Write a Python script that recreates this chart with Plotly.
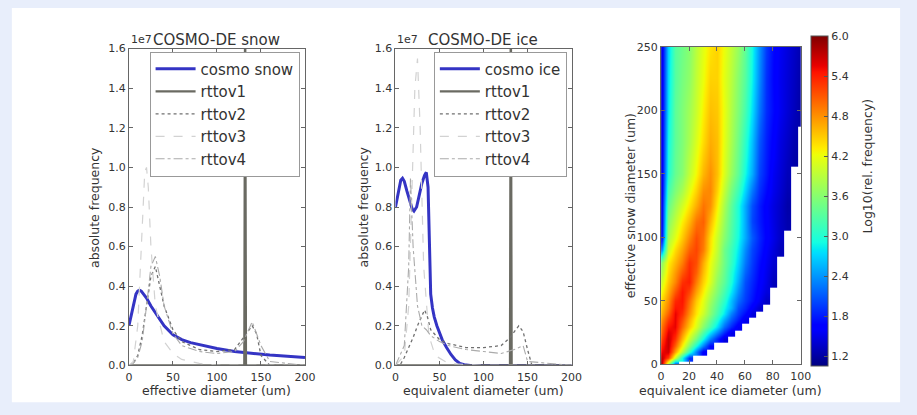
import plotly.graph_objects as go

# ---------------- Panel 1: COSMO-DE snow (units of 1e7) ----------------
snow_cosmo_x = [0, 2, 4, 6, 8, 10, 12, 14, 16, 20, 25, 30, 35, 40, 50, 60, 70, 80, 90, 100, 120, 140, 160, 180, 200]
snow_cosmo_y = [0.20, 0.24, 0.29, 0.33, 0.36, 0.375, 0.38, 0.375, 0.365, 0.34, 0.30, 0.265, 0.23, 0.20, 0.155,
                0.13, 0.115, 0.105, 0.095, 0.085, 0.07, 0.06, 0.052, 0.046, 0.04]
snow_r1_x = [0, 131, 132, 133, 200]
snow_r1_y = [0, 0, 2.0, 0, 0]
snow_r2_x = [0, 5, 10, 15, 20, 25, 30, 35, 40, 50, 60, 80, 100, 120, 130, 140, 145, 150, 160, 200]
snow_r2_y = [0, 0.01, 0.05, 0.15, 0.3, 0.45, 0.5, 0.4, 0.3, 0.18, 0.12, 0.08, 0.07, 0.08, 0.14, 0.2, 0.16, 0.05, 0, 0]
snow_r3_x = [0, 5, 10, 15, 18, 20, 22, 25, 30, 40, 50, 60, 80, 100, 150, 200]
snow_r3_y = [0, 0.02, 0.2, 0.7, 0.98, 1.0, 0.9, 0.6, 0.3, 0.12, 0.06, 0.03, 0.01, 0, 0, 0]
snow_r4_x = [0, 5, 10, 15, 20, 25, 30, 35, 40, 50, 60, 80, 100, 120, 130, 140, 150, 160, 200]
snow_r4_y = [0, 0.01, 0.04, 0.12, 0.3, 0.5, 0.55, 0.45, 0.3, 0.16, 0.1, 0.07, 0.06, 0.07, 0.12, 0.22, 0.1, 0.02, 0]

# ---------------- Panel 2: COSMO-DE ice (units of 1e7) ----------------
ice_cosmo_x = [0, 2, 4, 6, 8, 10, 13, 16, 19, 21, 24, 27, 30, 33, 35, 37, 38, 39, 40, 42, 44, 47, 50, 53,
               58, 63, 68, 73, 78, 85, 100, 150, 200]
ice_cosmo_y = [0.80, 0.85, 0.90, 0.935, 0.945, 0.93, 0.88, 0.83, 0.79, 0.78, 0.80, 0.86, 0.92, 0.96, 0.975,
               0.90, 0.70, 0.45, 0.36, 0.29, 0.245, 0.20, 0.16, 0.13, 0.09, 0.055, 0.028, 0.01, 0.003, 0, 0, 0, 0]
ice_r1_x = [0, 130, 131, 132, 200]
ice_r1_y = [0, 0, 2.0, 0, 0]
ice_r2_x = [0, 5, 10, 15, 20, 25, 30, 33, 36, 40, 50, 60, 80, 100, 120, 130, 140, 145, 150, 155, 200]
ice_r2_y = [0, 0, 0.04, 0.09, 0.14, 0.2, 0.25, 0.28, 0.25, 0.18, 0.13, 0.11, 0.09, 0.09, 0.1, 0.14, 0.2, 0.17, 0.08, 0, 0]
ice_r3_x = [0, 10, 15, 18, 22, 25, 28, 32, 38, 45, 60, 100, 200]
ice_r3_y = [0, 0.05, 0.3, 0.8, 1.4, 1.55, 1.2, 0.5, 0.15, 0.05, 0.01, 0, 0]
ice_r4_x = [0, 10, 15, 17, 20, 25, 30, 35, 40, 50, 60, 80, 100, 120, 135, 145, 150, 200]
ice_r4_y = [0, 0.1, 0.5, 0.95, 0.6, 0.3, 0.2, 0.18, 0.15, 0.12, 0.1, 0.08, 0.07, 0.06, 0.08, 0.1, 0.02, 0]

# ---------------- Panel 3: log10(rel. frequency) ----------------
N = None
hm_x = [0, 5, 10, 15, 20, 25, 30, 35, 40, 45, 50, 55, 60, 65, 70, 75, 80, 85, 90, 95, 100]
hm_y = [0, 5, 10, 15, 20, 25, 30, 35, 40, 45, 50, 57, 65, 72, 80, 90, 100, 112, 125, 137, 150, 162, 175, 200, 225, 250]
hm_z = [
    [6.0, 3.6, 1.8] + [N] * 18,
    [5.75, 5.25, 4.0, 2.9, 1.9] + [N] * 16,
    [5.5, 5.65, 4.7, 3.9, 3.1, 2.3, 1.6] + [N] * 14,
    [5.35, 5.7, 5.05, 4.3, 3.6, 2.95, 2.3, 1.7] + [N] * 13,
    [5.15, 5.7, 5.3, 4.6, 4.0, 3.5, 2.9, 2.3, 1.85, 1.45] + [N] * 11,
    [5.0, 5.6, 5.45, 4.8, 4.25, 3.8, 3.25, 2.75, 2.3, 1.85, 1.5] + [N] * 10,
    [4.9, 5.45, 5.55, 5.0, 4.5, 4.1, 3.6, 3.2, 2.75, 2.2, 1.85, 1.55] + [N] * 9,
    [4.75, 5.25, 5.55, 5.15, 4.65, 4.2, 3.8, 3.4, 3.0, 2.5, 2.1, 1.8, 1.5] + [N] * 8,
    [4.6, 5.05, 5.55, 5.3, 4.8, 4.35, 4.0, 3.6, 3.2, 2.8, 2.3, 1.95, 1.7, 1.45] + [N] * 7,
    [4.5, 4.9, 5.45, 5.4, 4.9, 4.4, 4.1, 3.65, 3.3, 2.9, 2.55, 2.05, 1.85, 1.6, 1.4] + [N] * 6,
    [4.4, 4.8, 5.35, 5.45, 5.0, 4.5, 4.15, 3.75, 3.4, 3.05, 2.6, 2.2, 1.95, 1.75, 1.55, 1.35] + [N] * 5,
    [4.2, 4.65, 5.1, 5.45, 5.2, 4.7, 4.3, 3.9, 3.55, 3.2, 2.8, 2.35, 2.0, 1.8, 1.6, 1.45] + [N] * 5,
    [4.0, 4.5, 4.85, 5.3, 5.4, 4.9, 4.45, 4.1, 3.65, 3.35, 2.95, 2.5, 2.05, 1.85, 1.65, 1.5, 1.3] + [N] * 4,
    [3.8, 4.4, 4.75, 5.1, 5.35, 5.05, 4.55, 4.15, 3.75, 3.4, 3.0, 2.6, 2.15, 1.9, 1.68, 1.52, 1.35] + [N] * 4,
    [3.6, 4.3, 4.6, 4.9, 5.3, 5.15, 4.65, 4.2, 3.85, 3.45, 3.1, 2.7, 2.25, 1.95, 1.72, 1.55, 1.4] + [N] * 4,
    [2.2, 4.0, 4.4, 4.7, 5.05, 5.2, 4.9, 4.35, 3.95, 3.45, 3.15, 2.8, 2.35, 2.0, 1.8, 1.6, 1.45, 1.3] + [N] * 3,
    [1.5, 3.8, 4.15, 4.5, 4.85, 5.15, 4.95, 4.4, 4.0, 3.6, 3.25, 2.9, 2.5, 2.1, 1.85, 1.65, 1.5, 1.35] + [N] * 3,
    [1.45, 3.6, 3.95, 4.3, 4.6, 4.95, 5.05, 4.6, 4.15, 3.7, 3.3, 2.95, 2.5, 2.0, 1.8, 1.63, 1.48, 1.35, 1.25, N, N],
    [1.45, 3.4, 3.75, 4.05, 4.35, 4.65, 4.95, 4.8, 4.3, 3.8, 3.35, 2.95, 2.5, 2.05, 1.8, 1.61, 1.47, 1.36, 1.23, N, N],
    [1.4, 3.2, 3.55, 3.8, 4.15, 4.45, 4.8, 4.85, 4.45, 3.95, 3.5, 3.15, 2.7, 2.25, 1.9, 1.7, 1.52, 1.4, 1.27, N, N],
    [1.4, 3.0, 3.4, 3.6, 3.95, 4.25, 4.6, 4.8, 4.55, 4.1, 3.7, 3.35, 2.9, 2.5, 2.0, 1.78, 1.55, 1.43, 1.3, N, N],
    [1.4, 2.95, 3.38, 3.58, 3.88, 4.18, 4.5, 4.72, 4.55, 4.12, 3.75, 3.4, 2.98, 2.55, 2.05, 1.8, 1.6, 1.45, 1.33, 1.22, N],
    [1.4, 2.9, 3.35, 3.55, 3.8, 4.1, 4.4, 4.65, 4.55, 4.15, 3.8, 3.45, 3.05, 2.6, 2.1, 1.82, 1.63, 1.47, 1.36, 1.25, N],
    [1.4, 2.8, 3.35, 3.55, 3.75, 4.0, 4.3, 4.55, 4.5, 4.18, 3.85, 3.55, 3.2, 2.75, 2.25, 1.88, 1.7, 1.54, 1.42, 1.31, 1.2],
    [1.4, 2.75, 3.3, 3.5, 3.65, 3.95, 4.2, 4.45, 4.45, 4.15, 3.9, 3.6, 3.3, 2.85, 2.35, 1.9, 1.68, 1.53, 1.43, 1.33, 1.22],
    [1.4, 2.7, 3.3, 3.45, 3.6, 3.9, 4.15, 4.35, 4.45, 4.2, 3.95, 3.7, 3.35, 2.9, 2.4, 1.95, 1.7, 1.55, 1.45, 1.35, 1.25],
]
cbar_ticks = [1.2, 1.8, 2.4, 3.0, 3.6, 4.2, 4.8, 5.4, 6.0]
freq_ticks = [0.0, 0.2, 0.4, 0.6, 0.8, 1.0, 1.2, 1.4, 1.6]

jet = [[0.0, 'rgb(0,0,128)'], [0.11, 'rgb(0,0,255)'], [0.125, 'rgb(0,0,255)'], [0.34, 'rgb(0,219,255)'],
       [0.35, 'rgb(0,230,247)'], [0.375, 'rgb(20,255,226)'], [0.64, 'rgb(238,255,8)'], [0.66, 'rgb(255,236,0)'],
       [0.89, 'rgb(255,19,0)'], [0.91, 'rgb(232,0,0)'], [1.0, 'rgb(128,0,0)']]

W, H = 917, 415
FONT = 'DejaVu Sans'
TXT = '#333333'
BLUE = '#3434c4'

def px(x):
    return x / W

def py(y):
    return 1 - y / H

fig = go.Figure()

def add_lines(xa, ya, leg, series):
    for i, (name, x, y, color, width, dash) in enumerate(series):
        fig.add_trace(go.Scatter(x=x, y=y, mode='lines', name=name, xaxis=xa, yaxis=ya,
                                 line=dict(color=color, width=width, dash=dash),
                                 legend=leg, legendgroup=leg + str(i)))

add_lines('x', 'y', 'legend', [
    ('cosmo snow', snow_cosmo_x, snow_cosmo_y, BLUE, 3, 'solid'),
    ('rttov1', snow_r1_x, snow_r1_y, '#6a6a62', 2.2, 'solid'),
    ('rttov2', snow_r2_x, snow_r2_y, '#707070', 1.3, 'dot'),
    ('rttov3', snow_r3_x, snow_r3_y, '#d2d2d2', 1.2, 'dash'),
    ('rttov4', snow_r4_x, snow_r4_y, '#ababab', 1.1, 'dashdot'),
])
add_lines('x2', 'y2', 'legend2', [
    ('cosmo ice', ice_cosmo_x, ice_cosmo_y, BLUE, 3, 'solid'),
    ('rttov1', ice_r1_x, ice_r1_y, '#6a6a62', 2.2, 'solid'),
    ('rttov2', ice_r2_x, ice_r2_y, '#707070', 1.3, 'dot'),
    ('rttov3', ice_r3_x, ice_r3_y, '#d2d2d2', 1.2, 'dash'),
    ('rttov4', ice_r4_x, ice_r4_y, '#ababab', 1.1, 'dashdot'),
])

fig.add_trace(go.Heatmap(x=hm_x, y=hm_y, z=hm_z, xaxis='x3', yaxis='y3', zsmooth='best',
                         colorscale=jet, zmin=1.05, zmax=6.0, showlegend=False,
                         colorbar=dict(x=px(820), xanchor='left', xpad=0, y=py(372), yanchor='bottom', ypad=0,
                                       lenmode='pixels', len=330, thickness=17, outlinewidth=1,
                                       outlinecolor='#555', tickvals=cbar_ticks, ticktext=[f'{v:.1f}' for v in cbar_ticks],
                                       ticks='inside', ticklen=4, tickcolor='#555',
                                       tickfont=dict(size=11, color=TXT, family=FONT))))

ax = dict(showline=True, linecolor='#666', linewidth=1, mirror='ticks', ticks='inside', ticklen=4,
          tickcolor='#666', showgrid=False, zeroline=False,
          tickfont=dict(size=11, color=TXT, family=FONT))
xax = dict(ax, ticklabelstandoff=1)
ydom = [py(371), py(44)]
leg_common = dict(yanchor='top', xanchor='left', bgcolor='white', bordercolor='#999', borderwidth=1,
                  font=dict(size=15, color=TXT, family=FONT), tracegroupgap=0,
                  traceorder='grouped', itemwidth=40)
fig.update_layout(
    width=W, height=H, margin=dict(l=0, r=0, t=0, b=0),
    paper_bgcolor='#e8eefb', plot_bgcolor='white',
    font=dict(family=FONT, color=TXT),
    xaxis=dict(xax, domain=[px(127), px(306)], range=[0, 200], tickvals=[0, 50, 100, 150, 200], anchor='y'),
    yaxis=dict(ax, domain=ydom, range=[0, 1.6], tickvals=freq_ticks,
               ticktext=[f'{v:.1f}' for v in freq_ticks], anchor='x'),
    xaxis2=dict(xax, domain=[px(398), px(577)], range=[0, 200], tickvals=[0, 50, 100, 150, 200], anchor='y2'),
    yaxis2=dict(ax, domain=ydom, range=[0, 1.6], tickvals=freq_ticks,
                ticktext=[f'{v:.1f}' for v in freq_ticks], anchor='x2'),
    xaxis3=dict(xax, domain=[px(668), px(810)], range=[0, 100], tickvals=[0, 20, 40, 60, 80, 100], anchor='y3'),
    yaxis3=dict(ax, domain=[py(370), py(42)], range=[0, 250], tickvals=[0, 50, 100, 150, 200, 250], anchor='x3'),
    legend=dict(leg_common, x=px(148), y=py(47)),
    legend2=dict(leg_common, x=px(437), y=py(47)),
    shapes=[dict(type='rect', xref='paper', yref='paper', x0=px(8), x1=px(911), y0=py(409), y1=py(2),
                 fillcolor='white', line=dict(width=0), layer='below')],
)

ann = []
def label(text, x, y, size=13, angle=0, xanchor='center', yanchor='middle'):
    ann.append(dict(text=text, x=px(x), y=py(y), xref='paper', yref='paper', showarrow=False,
                    textangle=angle, xanchor=xanchor, yanchor=yanchor,
                    font=dict(size=size, color=TXT, family=FONT)))

label('COSMO-DE snow', 216, 35, size=15)
label('COSMO-DE ice', 487, 35, size=15)
label('1e7', 127, 43, size=11, xanchor='left', yanchor='bottom')
label('1e7', 398, 43, size=11, xanchor='left', yanchor='bottom')
label('effective diameter (um)', 216, 397, size=12.5)
label('equivalent diameter (um)', 487, 397, size=12.5)
label('equivalent ice diameter (um)', 739, 397, size=12.5)
label('absolute frequency', 92, 208, size=12.5, angle=-90)
label('absolute frequency', 365, 208, size=12.5, angle=-90)
label('effective snow diameter (um)', 637, 206, size=12.5, angle=-90)
label('Log10(rel. frequency)', 878, 165, size=12.5, angle=-90)
fig.update_layout(annotations=ann)

page_fix = ("var gd=document.getElementById('{plot_id}');"
            "document.documentElement.style.margin='0';document.documentElement.style.overflow='hidden';"
            "document.body.style.margin='0';document.body.style.padding='0';document.body.style.overflow='hidden';"
            "gd.style.position='absolute';gd.style.left='0px';gd.style.top='0px';")
fig.write_html('out.html', config={'displayModeBar': False}, post_script=page_fix)
